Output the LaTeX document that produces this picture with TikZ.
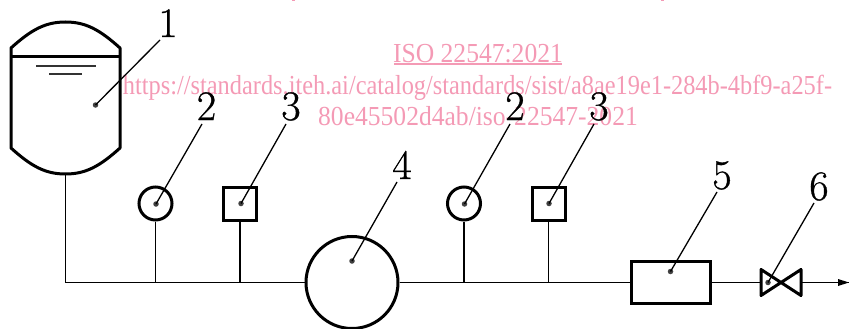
\documentclass[tikz,border=0pt]{standalone}
\usepackage{fontspec}
\setmainfont{Liberation Serif}
\newfontfamily\numfont[FakeBold=0.8]{Latin Modern Roman}
\newfontfamily\wmfont[FakeStretch=0.93]{Liberation Serif}
\newfontfamily\tightfont[FakeStretch=0.886]{Liberation Serif}
\definecolor{wm}{HTML}{F49AB5}
\tikzset{
  x=1pt,y=-1pt,
  thick line/.style={line width=3pt,line join=round},
  thin line/.style={line width=1.6pt},
  leader/.style={line width=1.3pt},
  dotmark/.style={circle,fill=black!75,inner sep=0pt,minimum size=5.5pt},
  numlabel/.style={font=\numfont\fontsize{42}{42}\selectfont,inner sep=0pt,text=black,anchor=base},
  wmtext/.style={font=\wmfont\fontsize{27.5}{27.5}\selectfont,inner sep=0pt,text=wm,anchor=base},
  equip/.style={draw,line width=3pt,inner sep=0pt},
}
\begin{document}
\begin{tikzpicture}
\useasboundingbox (0,0) rectangle (849,329);
% vessel
\draw[thick line] (11,48) -- (11,148) .. controls (32,167) and (46,174) .. (65.5,174) .. controls (85,174) and (99,167) .. (120,148) -- (120,48) .. controls (99,29) and (85,22) .. (65.5,22) .. controls (46,22) and (32,29) .. (11,48) -- cycle;
\draw[thick line] (11,57) -- (120,57);
\draw[thin line,black!80] (36,66) -- (96,66);
\draw[thin line,black!80] (49,74) -- (82,74);
% equipment
\node[equip,circle,minimum size=33pt] (g1) at (155.5,203.5) {};
\node[equip,minimum size=33pt] (s1) at (240,203.5) {};
\node[equip,circle,minimum size=92pt] (pump) at (352,282.5) {};
\node[equip,circle,minimum size=33pt] (g2) at (464,203.5) {};
\node[equip,minimum size=33pt] (s2) at (548.5,203.5) {};
\node[equip,minimum width=79pt,minimum height=42pt] (filt) at (670.5,282.5) {};
\coordinate (vl) at (761,282.5);
\coordinate (vc) at (781,282.5);
\coordinate (vr) at (801,282.5);
\draw[thick line] (vc) -- (761,269.5) -- (761,295.5) -- (801,269.5) -- (801,295.5) -- cycle;
% pipes
\coordinate (elbow) at (65.5,282.5);
\coordinate (j1) at (155.5,282.5);
\coordinate (j2) at (240,282.5);
\coordinate (j3) at (464,282.5);
\coordinate (j4) at (548.5,282.5);
\coordinate (vessel) at (65.5,174);
\coordinate (tip) at (849,282.5);
\draw[thin line] (vessel) -- (elbow) -- (pump.west);
\draw[thin line] (g1.south) -- (j1);
\draw[thin line] (s1.south) -- (j2);
\draw[thin line] (g2.south) -- (j3);
\draw[thin line] (s2.south) -- (j4);
\draw[thin line] (pump.east) -- (filt.west);
\draw[thin line] (filt.east) -- (vl);
\draw[thin line] (vr) -- (tip);
\fill (838,279) -- (849,282.5) -- (838,286) -- cycle;
% watermark
\node[wmtext] (w1) at (478,62.3) {ISO 22547:2021};
\draw[wm,line width=1.2pt] (394,64) -- (562,64);
\node[wmtext,font=\tightfont\fontsize{27.5}{27.5}\selectfont] (w2) at (477.5,94.3) {https://standards.iteh.ai/catalog/standards/sist/a8ae19e1-284b-4bf9-a25f-};
\node[wmtext] (w3) at (478,125.7) {80e45502d4ab/iso-22547-2021};
\fill[wm] (292,0) rectangle (295,1.5);
\fill[wm] (661,0) rectangle (664,1.5);
% labels
\node[numlabel] (n1) at (168,37) {1};
\node[numlabel] (n2a) at (206.5,120) {2};
\node[numlabel] (n3a) at (291,120) {3};
\node[numlabel] (n4) at (402,179) {4};
\node[numlabel] (n2b) at (515,120) {2};
\node[numlabel] (n3b) at (599,120) {3};
\node[numlabel] (n5) at (722,189) {5};
\node[numlabel] (n6) at (819,200) {6};
% leaders
\node[dotmark] (d1) at (95.5,105) {};
\node[dotmark] (d2a) at (156,204) {};
\node[dotmark] (d3a) at (241,203.5) {};
\node[dotmark] (d4) at (352,261) {};
\node[dotmark] (d2b) at (464.5,204) {};
\node[dotmark] (d3b) at (549,203.5) {};
\node[dotmark] (d5) at (670.5,271.5) {};
\node[dotmark] (d6) at (768,282.5) {};
\coordinate (e1) at (160,40);
\coordinate (e2a) at (202,124);
\coordinate (e3a) at (286,124);
\coordinate (e4) at (397,182);
\coordinate (e2b) at (510,124);
\coordinate (e3b) at (594,124);
\coordinate (e5) at (717,192);
\coordinate (e6) at (814,203);
\draw[leader] (d1.center) -- (e1);
\draw[leader] (d2a.center) -- (e2a);
\draw[leader] (d3a.center) -- (e3a);
\draw[leader] (d4.center) -- (e4);
\draw[leader] (d2b.center) -- (e2b);
\draw[leader] (d3b.center) -- (e3b);
\draw[leader] (d5.center) -- (e5);
\draw[leader] (d6.center) -- (e6);
\end{tikzpicture}
\end{document}
